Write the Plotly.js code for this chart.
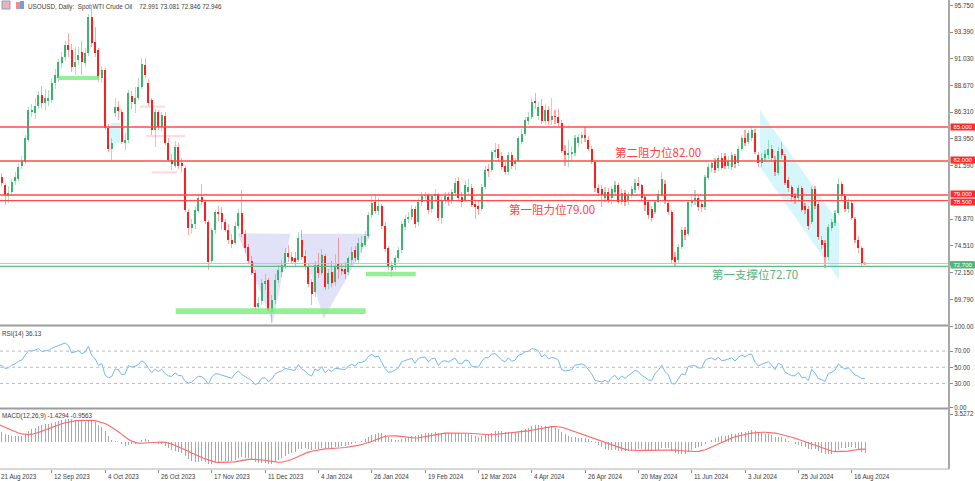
<!DOCTYPE html>
<html><head><meta charset="utf-8">
<script src="https://cdn.plot.ly/plotly-3.0.1.min.js"></script>
<style>html,body{margin:0;padding:0;background:#fff;}#chart{width:975px;height:481px;}</style>
</head><body><div id="chart"></div>
<script>
// ---------- DATA (daily bars, USOUSD, 21 Aug 2023 -> 22 Aug 2024) ----------
// closes before the visible window (used only to warm up RSI / MACD)
const priorClose = [67.12,69.42,68.27,70.62,71.78,71.19,72.53,69.51,69.16,69.37,67.70,69.56,69.86,70.64,69.79,71.79,71.80,73.86,72.99,74.83,75.75,76.89,75.42,74.15,75.75,75.35,75.63,77.07,78.74,79.63,78.78,80.09,80.58,81.80,81.37,79.49,81.55,82.82,81.94,82.92,84.40,82.82,83.19,82.51,80.99,79.38,80.39,81.25];

const open = [
81.0,80.6,79.9,78.9,79.3,80.2,80.4,81.6,81.9,83.9,
86.3,86.2,86.9,87.8,87.1,87.3,87.4,88.9,89.3,90.65,
91.2,92.25,91.8,90.3,90.9,91.6,90.65,91.5,94.7,92.5,
91.8,89.3,90.0,84.9,83.1,86.2,86.8,86.3,83.6,83.85,
87.7,87.0,87.6,88.5,90.5,88.9,87.4,84.7,86.3,85.0,
86.0,83.6,82.1,81.6,83.2,81.8,81.4,77.5,76.1,76.4,
77.6,78.8,78.4,76.6,73.2,75.9,77.5,77.4,76.6,75.95,
75.0,74.8,76.3,77.4,75.6,74.4,73.2,72.1,69.1,69.6,
71.15,71.5,68.7,69.7,71.5,72.2,72.7,73.9,73.5,73.4,
73.3,75.0,73.6,72.65,71.3,70.4,72.8,72.1,73.6,71.1,
72.2,71.3,72.9,72.5,72.5,72.2,73.3,74.1,73.3,74.4,
74.6,75.4,77.2,78.4,77.6,78.0,76.3,74.3,72.4,72.8,
73.4,74.1,76.2,76.9,77.1,77.8,76.6,78.4,78.9,79.0,
77.8,78.9,79.1,77.0,78.5,78.8,78.5,79.2,80.2,78.8,
78.6,79.3,79.6,78.2,78.0,77.8,79.7,81.3,81.2,82.8,
83.1,82.4,81.6,81.0,82.5,81.7,82.0,83.7,84.4,85.5,
85.9,87.3,86.0,86.9,85.5,86.5,85.6,86.0,85.9,85.4,
82.9,82.5,82.6,82.7,83.6,84.0,84.3,83.9,83.1,81.9,
79.6,79.5,78.7,79.3,78.7,79.3,79.9,78.4,79.2,78.5,
79.0,79.4,80.1,79.9,78.8,78.4,77.8,77.5,78.4,79.0,
80.0,78.3,77.5,73.5,73.3,74.4,75.9,75.6,78.3,78.5,
78.7,78.2,77.9,80.5,81.4,82.0,81.4,82.3,82.4,81.6,
81.5,82.4,81.8,83.1,84.0,83.7,84.0,84.5,82.5,81.8,
82.3,82.5,83.1,82.1,80.9,83.1,82.4,80.3,79.7,78.9,
78.7,79.6,78.0,77.8,76.6,79.5,78.2,75.0,74.75,73.5,
76.1,76.5,77.4,80.0,78.9,77.8,78.3,76.9,75.0,74.3,
72.991];

const high = [
81.3,80.9,80.1,79.8,80.4,81.0,81.8,82.4,84.3,86.8,
87.0,87.6,88.2,88.6,88.4,88.3,89.3,90.1,91.0,91.6,
92.6,93.3,92.3,92.1,92.1,92.6,92.0,95.0,95.75,93.8,
92.0,90.4,90.2,85.3,84.0,87.6,87.3,86.6,84.5,88.3,
88.2,88.5,89.3,91.1,91.1,89.2,87.6,86.6,86.5,86.3,
86.3,84.0,82.6,83.8,83.6,82.3,81.6,77.8,76.9,78.0,
79.0,80.0,78.6,76.8,76.1,77.7,78.0,77.9,76.9,76.4,
75.6,76.6,77.8,79.4,75.9,74.7,73.6,72.4,70.0,71.6,
72.0,71.7,70.2,72.0,72.8,73.3,74.3,74.6,74.0,74.0,
75.7,75.9,74.1,72.9,71.6,73.2,73.9,74.2,73.8,72.5,
73.2,73.8,75.2,73.0,73.1,73.6,74.4,74.5,75.2,75.4,
75.8,77.5,78.9,79.0,78.7,78.2,76.6,74.5,73.2,73.7,
74.4,76.7,77.2,77.5,78.1,78.0,78.7,79.3,79.3,79.2,
79.1,79.5,79.2,78.8,79.3,79.3,79.5,80.5,80.6,79.3,
80.3,80.4,80.0,78.6,78.6,80.0,81.6,81.7,83.0,83.6,
83.5,82.8,81.9,82.8,82.8,82.3,84.2,84.8,85.9,86.3,
87.6,88.0,87.2,87.5,87.0,86.9,87.6,86.5,86.6,85.6,
83.4,83.9,83.3,84.3,84.4,84.6,85.0,84.2,83.3,82.0,
80.0,79.9,79.7,79.6,79.8,80.2,80.1,79.5,79.4,79.3,
79.8,80.4,80.6,80.0,79.0,78.5,78.0,78.6,79.4,81.0,
80.3,78.6,77.7,74.0,74.7,76.2,76.2,78.6,79.0,79.4,
79.0,78.6,80.8,81.8,82.0,82.3,82.5,82.7,82.7,82.4,
82.8,82.6,83.3,84.3,84.7,84.7,85.0,84.8,82.8,82.7,
83.0,83.9,83.4,82.4,83.2,83.7,82.6,80.6,79.9,79.2,
79.9,79.8,78.3,78.0,79.8,79.8,78.4,75.4,75.0,76.4,
76.9,77.7,80.5,80.2,79.1,78.7,78.6,77.1,75.4,74.5,
73.081];

const low = [
80.0,79.8,78.1,78.3,78.9,79.9,80.2,81.3,81.7,83.7,
85.9,85.7,86.6,86.7,86.5,86.9,87.1,88.4,89.0,90.2,
90.8,91.2,89.9,89.6,90.5,89.6,90.3,91.3,92.1,91.2,
89.0,88.9,84.7,82.8,82.1,85.9,85.6,83.5,83.0,83.6,
86.6,86.2,87.4,88.4,89.3,86.9,84.3,83.2,84.7,84.6,
83.4,81.9,81.2,81.4,81.3,81.0,77.5,75.5,75.6,76.0,
77.4,78.1,76.4,72.4,72.9,75.6,76.7,75.9,75.7,74.7,
74.3,74.6,76.0,75.3,73.9,72.9,71.9,68.9,68.8,69.3,
70.6,68.6,67.7,69.4,71.2,71.8,72.5,73.1,72.9,72.7,
73.1,73.3,72.4,70.9,69.3,70.0,71.7,71.9,70.6,70.7,
70.9,71.0,71.6,71.9,71.6,71.9,72.8,73.1,73.0,73.9,
74.4,75.2,77.0,77.3,77.2,76.0,74.0,72.4,71.8,72.4,
73.1,73.9,75.9,76.5,76.8,76.1,76.3,78.0,78.6,77.3,
77.4,78.4,76.7,76.4,78.2,78.0,78.2,79.0,78.5,77.9,
78.4,79.0,77.9,76.9,77.2,77.6,79.5,80.6,81.0,82.3,
81.9,81.2,80.8,80.8,81.3,81.2,81.9,83.5,84.2,85.2,
85.7,86.6,85.6,85.3,85.2,85.2,85.2,85.3,85.1,82.7,
81.6,81.5,82.1,82.4,83.2,83.5,83.7,82.9,81.7,79.3,
78.9,77.9,78.4,78.3,78.2,79.0,78.2,78.1,78.0,78.1,
78.7,79.2,79.4,78.5,77.6,76.9,76.6,77.3,78.3,78.8,
78.2,77.2,73.0,72.65,73.0,74.2,75.0,75.4,77.9,78.1,
77.6,77.5,77.7,80.3,81.0,80.9,81.1,81.2,81.3,81.3,
81.2,81.4,81.6,82.9,83.3,83.5,83.8,82.6,81.5,81.5,
81.9,82.2,82.0,80.7,80.8,82.2,79.9,79.3,78.4,78.2,
78.4,77.5,77.3,75.9,76.4,77.8,75.0,74.2,72.55,73.3,
75.8,76.3,77.2,78.6,77.5,77.4,76.8,74.8,73.9,72.7,
72.846];

const close = [
80.3,80.05,79.0,79.2,80.15,80.6,81.5,82.0,84.0,86.5,
86.5,86.9,87.8,87.1,87.6,87.6,88.9,89.6,90.75,91.2,
92.25,91.8,90.3,90.75,91.4,90.75,91.5,94.7,92.4,91.5,
89.3,90.0,84.9,83.1,83.6,86.8,86.4,83.7,83.9,88.0,
87.2,87.6,88.5,90.6,89.6,87.1,84.7,86.3,85.0,86.1,
83.6,82.1,81.7,83.2,81.6,81.55,77.7,76.1,76.4,77.7,
78.7,78.4,76.7,73.1,75.9,77.5,77.3,76.6,75.95,75.0,
74.7,76.3,77.4,75.6,74.3,73.2,72.1,69.1,69.5,71.2,
71.45,68.85,69.7,71.5,72.4,72.8,73.9,73.5,73.2,73.1,
75.2,73.5,72.6,71.1,70.3,72.8,72.1,73.7,70.9,72.1,
71.2,72.6,72.45,72.3,72.0,73.4,74.0,73.4,74.8,74.8,
75.4,77.2,78.3,77.6,78.0,76.3,74.2,72.65,72.8,73.4,
74.1,76.4,76.9,77.1,77.8,76.4,78.4,78.9,79.0,77.7,
78.9,79.1,77.0,78.5,78.9,78.5,79.3,80.1,78.7,78.4,
79.9,79.7,78.1,77.9,77.8,79.7,81.2,81.1,82.8,83.0,
82.3,81.5,81.0,82.5,81.6,82.0,84.0,84.4,85.6,85.9,
87.2,87.1,86.8,85.5,86.5,85.5,86.0,85.85,85.4,82.9,
82.5,82.7,82.8,84.0,84.1,84.3,84.0,83.1,81.9,79.6,
79.2,79.0,79.3,78.6,79.5,79.9,78.4,79.2,78.4,79.0,
79.5,80.1,79.8,78.7,78.1,77.2,77.0,78.4,79.1,80.4,
78.5,77.5,73.3,73.1,74.4,75.9,75.5,78.4,78.6,78.7,
77.9,77.9,80.6,81.5,81.8,81.2,82.3,81.4,81.6,82.0,
82.5,81.7,83.1,84.0,83.6,84.5,84.7,82.8,81.8,82.3,
82.6,83.1,82.3,81.0,82.9,82.5,80.1,79.6,78.8,78.7,
79.6,77.7,77.7,76.3,79.5,78.0,75.3,74.6,73.5,76.2,
76.6,77.4,80.0,78.9,77.8,78.4,77.0,75.0,74.3,73.0,
72.946];

const dateLabels = ['21 Aug 2023','12 Sep 2023','4 Oct 2023','26 Oct 2023','17 Nov 2023','11 Dec 2023','4 Jan 2024','26 Jan 2024','19 Feb 2024','12 Mar 2024','4 Apr 2024','26 Apr 2024','20 May 2024','11 Jun 2024','3 Jul 2024','25 Jul 2024','16 Aug 2024'];
const dateLabelBars = [0,16,32,48,64,80,96,112,128,144,160,176,192,208,224,240,256];
// 79.230 sits under the 79.000 / 78.500 price boxes and is not visible in the chart
const priceTicks = [95.75,93.39,91.03,88.67,86.31,83.95,81.59,76.87,74.51,72.15,69.79];
const rsiTicks = [100,70,50,30,0];
const rsiLevels = [70,50,30];
const macdTicks = [3.5272,-3.4879];
const resistanceLevels = [85.0,82.0,79.0,78.5];
const resistanceBoxShift = [0,1.5,1.5,-1.5];
const supportLevel = 72.70;
const lastPrice = 72.946;
// drawing objects: [barFrom, barTo, priceLow, priceHigh]
const greenZones = [[18.1,30.3,89.15,89.5],[53.2,110.2,68.49,68.99],[110.3,125.2,71.82,72.23]];
const pinkMarks = [[42.5,50,86.7,86.9],[44.3,56,84.1,84.3],[46,53.6,80.9,81.1]];
const cyanPatch = [33.5,36.5,83.6,85.35];
// triangles: [[bar,price] x3]
const triangles = [[[71.7,75.62],[87.6,75.58],[82.3,67.67]],[[90.5,75.58],[112.0,75.58],[97.5,68.03]]];
const channel = [[228.5,86.50],[252.2,76.53],[252.2,71.50],[228.5,81.47]];
const levelTexts = [
  {text:'第二阻力位82.00', bar:184.4, price:82.80, color:'#ff4343'},
  {text:'第一阻力位79.00', bar:152.6, price:77.76, color:'#ff4343'},
  {text:'第一支撑位72.70', bar:213.5, price:72.02, color:'#58b47c'}
];

// ---------- indicators ----------
const allClose = priorClose.concat(close);
function rsiCalc(c, n){
  const out = new Array(c.length).fill(null);
  let g = 0, l = 0;
  for (let i = 1; i <= n; i++){ const d = c[i]-c[i-1]; if (d > 0) g += d; else l -= d; }
  g /= n; l /= n;
  out[n] = l === 0 ? 100 : 100 - 100/(1+g/l);
  for (let i = n+1; i < c.length; i++){
    const d = c[i]-c[i-1];
    g = (g*(n-1) + Math.max(d,0))/n;
    l = (l*(n-1) + Math.max(-d,0))/n;
    out[i] = l === 0 ? 100 : 100 - 100/(1+g/l);
  }
  return out;
}
function emaCalc(c, n){
  const k = 2/(n+1); const out = [c[0]];
  for (let i = 1; i < c.length; i++) out.push(c[i]*k + out[i-1]*(1-k));
  return out;
}
const e12 = emaCalc(allClose,12), e26 = emaCalc(allClose,26);
const macdAll = e12.map((v,i)=>v-e26[i]);
const sigAll = macdAll.map((v,i)=>{ if (i<8) return null; let s=0; for(let j=i-8;j<=i;j++) s+=macdAll[j]; return s/9; });
const rsiAll = rsiCalc(allClose,14);
const off = priorClose.length;
const rsi = rsiAll.slice(off), macd = macdAll.slice(off), signal = sigAll.slice(off);

// ---------- geometry ----------
const X0 = 0.48, X1 = 285.2;          // visible bar range
const PW = 949, PH = 469;             // plot area size in px
const P0 = 67.565, P1 = 96.218;       // price pane range
const px2paperY = py => (PH - py)/PH;
const price2px = p => (P1 - p)/(P1 - P0)*324.5;
const bars = close.map((_,i)=>i);
const up = close.map((c,i)=> c >= open[i]);

const RED='#ff1e1e', GREEN='#3cb371';
const traces = [
  {type:'bar', x:bars, base:low, y:high.map((h,i)=>h-low[i]), width:0.32, yaxis:'y',
   marker:{color:up.map(u=>u?'rgba(60,179,113,0.42)':'rgba(255,60,60,0.45)'), line:{width:0}}, hoverinfo:'skip'},
  {type:'bar', x:bars, base:open.map((o,i)=>Math.min(o,close[i])), y:open.map((o,i)=>Math.max(Math.abs(close[i]-o),0.06)), width:0.62, yaxis:'y',
   marker:{color:up.map(u=>u?GREEN:RED), line:{width:0}}, hoverinfo:'skip'},
  {type:'scatter', mode:'lines', x:bars, y:rsi, yaxis:'y2', line:{color:'#74b6f3', width:1}, hoverinfo:'skip'},
  {type:'bar', x:bars, y:macd, width:0.3, yaxis:'y3', marker:{color:'#a8a8a8', line:{width:0}}, hoverinfo:'skip'},
  {type:'scatter', mode:'lines', x:bars, y:signal, yaxis:'y3', line:{color:'#ff6666', width:1.1}, hoverinfo:'skip'}
];

const shapes = [];
triangles.forEach(t=>{
  shapes.push({type:'path', xref:'x', yref:'y', layer:'below', line:{width:0},
    fillcolor:'rgba(205,205,242,0.6)',
    path:`M ${t[0][0]},${t[0][1]} L ${t[1][0]},${t[1][1]} L ${t[2][0]},${t[2][1]} Z`});
});
shapes.push({type:'path', xref:'x', yref:'y', layer:'below', line:{width:0}, fillcolor:'rgba(185,242,250,0.6)',
  path:'M '+channel.map(p=>p[0]+','+p[1]).join(' L ')+' Z'});
shapes.push({type:'rect', xref:'x', yref:'y', layer:'below', line:{width:0}, fillcolor:'rgba(190,242,250,0.7)',
  x0:cyanPatch[0], x1:cyanPatch[1], y0:cyanPatch[2], y1:cyanPatch[3]});
pinkMarks.forEach(z=>shapes.push({type:'rect', xref:'x', yref:'y', layer:'below', line:{width:0}, fillcolor:'rgba(255,190,205,0.55)',
  x0:z[0], x1:z[1], y0:z[2], y1:z[3]}));
greenZones.forEach(z=>shapes.push({type:'rect', xref:'x', yref:'y', layer:'above', line:{width:0}, fillcolor:'rgba(130,236,130,0.85)',
  x0:z[0], x1:z[1], y0:z[2], y1:z[3]}));
shapes.push({type:'line', xref:'paper', yref:'y', x0:0, x1:1, y0:lastPrice, y1:lastPrice, line:{color:'#c4c4c4', width:1}});
shapes.push({type:'line', xref:'paper', yref:'y', x0:0, x1:1, y0:supportLevel, y1:supportLevel, line:{color:'#5cbf83', width:1.3}});
resistanceLevels.forEach(v=>shapes.push({type:'line', xref:'paper', yref:'y', x0:0, x1:1, y0:v, y1:v, line:{color:'#ff4b4b', width:1.4}}));
rsiLevels.forEach(v=>shapes.push({type:'line', xref:'paper', yref:'y2', x0:0, x1:1, y0:v, y1:v, line:{color:'#bdbdbd', width:1, dash:'dot'}}));
shapes.push({type:'line', xref:'paper', yref:'paper', x0:0, x1:1, y0:px2paperY(325.5), y1:px2paperY(325.5), line:{color:'#9c9c9c', width:2.2}});
shapes.push({type:'line', xref:'paper', yref:'paper', x0:0, x1:1, y0:px2paperY(408.5), y1:px2paperY(408.5), line:{color:'#9c9c9c', width:2.2}});
shapes.push({type:'line', xref:'paper', yref:'paper', x0:0, x1:1, y0:0, y1:0, line:{color:'#b0b0b0', width:1}});
shapes.push({type:'line', xref:'paper', yref:'paper', x0:1, x1:1, y0:0, y1:1, line:{color:'#a8a8a8', width:2}});
const lpY = price2px(lastPrice);
shapes.push({type:'rect', xref:'paper', yref:'paper', x0:(PW+1)/PW, x1:(PW+25)/PW, y0:px2paperY(lpY+2), y1:px2paperY(lpY-2.5), fillcolor:'#8c97a8', line:{width:0}});
shapes.push({type:'rect', xref:'paper', yref:'paper', x0:2/PW, x1:10/PW, y0:px2paperY(9), y1:px2paperY(1), fillcolor:'#f3b0b0', line:{color:'#7f9fd8', width:1}});
shapes.push({type:'rect', xref:'paper', yref:'paper', x0:16/PW, x1:20/PW, y0:px2paperY(9), y1:px2paperY(2), fillcolor:'#ef8c8c', line:{width:0}});
shapes.push({type:'rect', xref:'paper', yref:'paper', x0:20/PW, x1:24/PW, y0:px2paperY(9), y1:px2paperY(1), fillcolor:'#6f9fe3', line:{width:0}});

const txt = '#3c3c3c';
const small = {family:'Liberation Sans, Arial, sans-serif', size:6.3, color:txt};
const annotations = [];
annotations.push({xref:'paper', yref:'paper', x:26/PW, y:1, xanchor:'left', yanchor:'top', yshift:-1, showarrow:false,
  text:'USOUSD, Daily:\u00a0\u00a0Spot WTI Crude Oil\u00a0\u00a0\u00a0\u00a072.991 73.081 72.846 72.946', font:small});
annotations.push({xref:'paper', yref:'paper', x:0, y:px2paperY(327.5), xanchor:'left', yanchor:'top', showarrow:false, text:'RSI(14) 36.13', font:small});
annotations.push({xref:'paper', yref:'paper', x:0, y:px2paperY(410), xanchor:'left', yanchor:'top', showarrow:false, text:'MACD(12,26,9) -1.4294 -0.9563', font:small});
dateLabels.forEach((t,k)=>annotations.push({xref:'paper', yref:'paper', x:(dateLabelBars[k]-X0)/(X1-X0), y:0, xanchor:'left', yanchor:'top', yshift:-2, xshift:0.5,
  showarrow:false, text:t, font:small}));
levelTexts.forEach(l=>annotations.push({xref:'x', yref:'y', x:l.bar, y:l.price, xanchor:'left', yanchor:'middle', showarrow:false,
  text:l.text, font:{family:'Noto Sans CJK SC, sans-serif', size:11.5, color:l.color}}));
function priceBox(v, bg, fg, shift){
  return {xref:'paper', yref:'y', x:1, y:v, xanchor:'left', yanchor:'middle', xshift:1, yshift:shift, showarrow:false,
    text:v.toFixed(3), bgcolor:bg, borderpad:0, width:24, height:6, align:'center', font:{family:'Liberation Sans, Arial, sans-serif', size:6, color:fg}};
}
annotations.push(priceBox(supportLevel,'#4fb878','#ffffff',1));
resistanceLevels.forEach((v,k)=>annotations.push(priceBox(v,'#ff2b2b','#ffffff',resistanceBoxShift[k])));

const axisCommon = {side:'right', anchor:'x', showgrid:false, zeroline:false, showline:false, ticks:'outside', ticklen:3, tickwidth:1, tickcolor:'#8a8a8a', tickfont:small, fixedrange:true};
const layout = {
  width:975, height:481, margin:{l:0, r:26, t:0, b:12}, paper_bgcolor:'#ffffff', plot_bgcolor:'#ffffff',
  showlegend:false, barmode:'overlay', bargap:0, hovermode:false, font:small,
  xaxis:{range:[X0,X1], anchor:'y3', showgrid:false, zeroline:false, showline:false, tickvals:dateLabelBars, ticks:'outside', ticklen:3, tickcolor:'#8a8a8a', showticklabels:false, fixedrange:true},
  yaxis:Object.assign({}, axisCommon, {domain:[(PH-324.5)/PH,1], range:[P0,P1], tickvals:priceTicks, ticktext:priceTicks.map(v=>v.toFixed(3))}),
  yaxis2:Object.assign({}, axisCommon, {domain:[(PH-407.7)/PH,(PH-326.9)/PH], range:[0,100], tickvals:rsiTicks, ticktext:rsiTicks.map(v=>v.toFixed(2))}),
  yaxis3:Object.assign({}, axisCommon, {domain:[0,(PH-410)/PH], range:[-3.48,4.04], tickvals:macdTicks, ticktext:macdTicks.map(v=>v.toFixed(4))}),
  shapes:shapes, annotations:annotations
};
Plotly.newPlot('chart', traces, layout, {staticPlot:true, displayModeBar:false});
</script>
</body></html>
